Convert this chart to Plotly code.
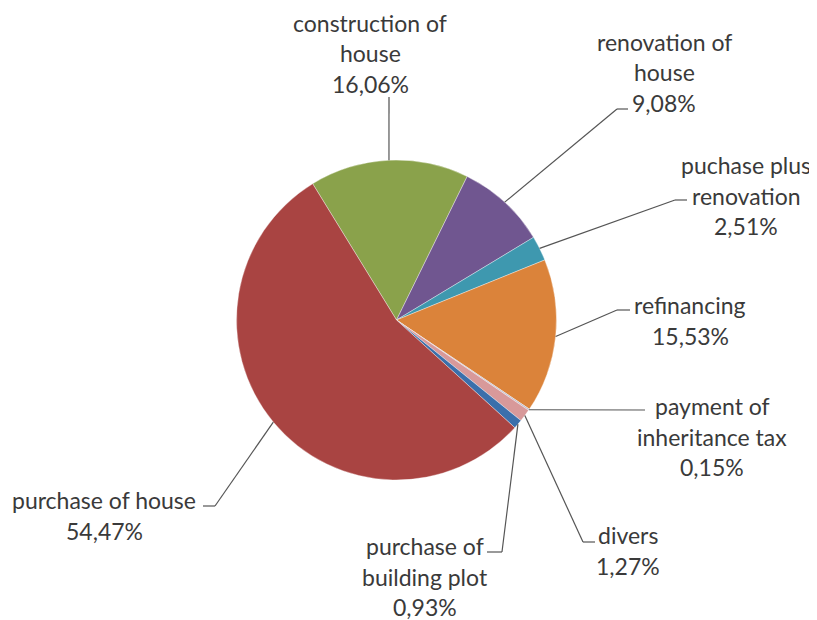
import math
import plotly.graph_objects as go

# data (clockwise from the top-left edge of the green slice)
labels = [
    "construction of\nhouse",
    "renovation of\nhouse",
    "puchase plus\nrenovation",
    "refinancing",
    "payment of\ninheritance tax",
    "divers",
    "purchase of\nbuilding plot",
    "purchase of house",
]
shares = [16.06, 9.08, 2.51, 15.53, 0.15, 1.27, 0.93, 54.47]
colors = ["#8AA24B", "#705690", "#3E98AF", "#DB833A", "#BBBBCB", "#D8999A", "#3B6FAB", "#A94442"]

# the page body has an 8px margin, so the figure is drawn 8px in from the window corner
PAGE_W, PAGE_H, BODY = 817, 620, 8
W, H = PAGE_W - BODY, PAGE_H - BODY
CX, CY, R = 396.5, 320, 160
ROTATION = -31.6
TEXT_COLOR = "#3a3a3a"
LINE_COLOR = "#555555"

# label placement in window pixels: text centre x, first line centre y, elbow, end of leader
label_pos = [
    dict(x=370, y=23, elbow=None, end=(389, 97)),
    dict(x=664, y=42, elbow=(617, 109), end=(628, 109)),
    dict(x=746, y=165, elbow=(675, 200), end=(687, 200)),
    dict(x=690, y=305, elbow=(617, 310), end=(630, 310)),
    dict(x=712, y=406, elbow=None, end=(645, 410)),
    dict(x=628, y=535, elbow=(583, 542), end=(595, 542)),
    dict(x=425, y=546, elbow=(502, 552), end=(487, 552)),
    dict(x=104, y=500, elbow=(215, 506), end=(203, 506)),
]
LINE_STEP = 30.5


def px(x):
    return (x - BODY) / W


def py(y):
    return 1 - (y - BODY) / H


fig = go.Figure()
fig.add_trace(go.Pie(
    labels=[l.replace("\n", " ") for l in labels],
    values=shares,
    sort=False,
    direction="clockwise",
    rotation=ROTATION,
    marker=dict(colors=colors, line=dict(color="rgba(255,255,255,0.6)", width=0.6)),
    textinfo="none",
    hoverinfo="label+percent",
    showlegend=False,
    domain=dict(x=[px(CX - R), px(CX + R)], y=[py(CY + R), py(CY - R)]),
))

shapes = []
annotations = []
total = sum(shares)
acc = 0.0
for lab, val, pos in zip(labels, shares, label_pos):
    mid = math.radians(ROTATION + 360 * (acc + val / 2) / total)
    acc += val
    sx = CX + R * math.sin(mid)
    sy = CY - R * math.cos(mid)
    pts = [(sx, sy)]
    if pos["elbow"]:
        pts.append(pos["elbow"])
    pts.append(pos["end"])
    for (x0, y0), (x1, y1) in zip(pts[:-1], pts[1:]):
        shapes.append(dict(type="line", xref="paper", yref="paper",
                           x0=px(x0), y0=py(y0), x1=px(x1), y1=py(y1),
                           line=dict(color=LINE_COLOR, width=1.2)))

    text_lines = lab.split("\n") + ["{:.2f}%".format(val).replace(".", ",")]
    for i, t in enumerate(text_lines):
        annotations.append(dict(
            x=px(pos["x"]), y=py(pos["y"] + i * LINE_STEP), xref="paper", yref="paper",
            text=t, showarrow=False, xanchor="center", yanchor="middle",
            font=dict(family="Lato", size=23, color=TEXT_COLOR),
        ))

fig.update_layout(
    width=W,
    height=H,
    margin=dict(l=0, r=0, t=0, b=0),
    paper_bgcolor="white",
    plot_bgcolor="white",
    shapes=shapes,
    annotations=annotations,
)

fig.write_html("out.html")
